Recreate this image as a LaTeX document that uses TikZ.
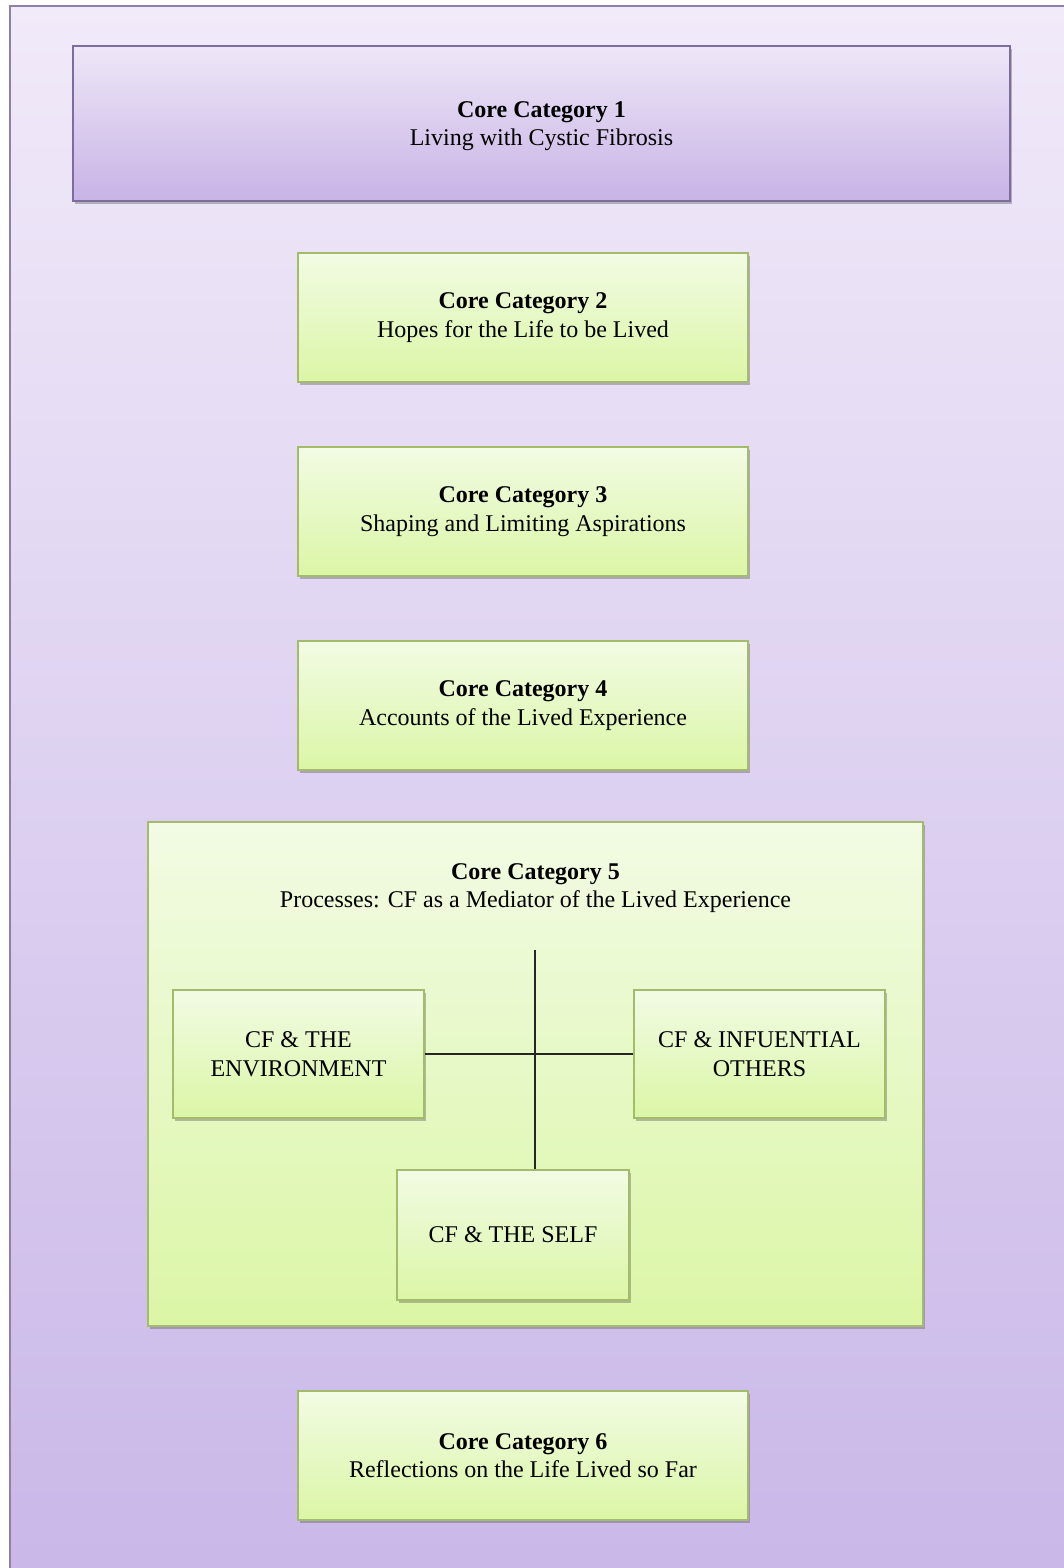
\documentclass[tikz,border=0pt]{standalone}
\usepackage{fontspec}
\setmainfont{Liberation Serif}
\usetikzlibrary{shadows}
\definecolor{bgtop}{HTML}{F1EAF9}
\definecolor{bgbot}{HTML}{C9B7E8}
\definecolor{frameline}{HTML}{8E80A6}
\definecolor{ptop}{HTML}{EEE7F7}
\definecolor{pbot}{HTML}{C8B3E6}
\definecolor{pline}{HTML}{7F6C9F}
\definecolor{gtop}{HTML}{F2FBE4}
\definecolor{gbot}{HTML}{DBF6A6}
\definecolor{gline}{HTML}{A3BB6B}
\tikzset{
  shade box/.style={draw, line width=1.3pt, rectangle, inner sep=0pt, align=center,
    font=\fontsize{24}{28.5}\selectfont,
    drop shadow={shadow xshift=1.5pt, shadow yshift=-3pt, opacity=0.35, fill=black!70}},
  purplebox/.style={shade box, draw=pline, top color=ptop, bottom color=pbot},
  greenbox/.style={shade box, draw=gline, top color=gtop, bottom color=gbot},
  link/.style={draw=black!85, line width=1.3pt}
}
\begin{document}
\begin{tikzpicture}[x=1pt, y=-1pt]
\useasboundingbox (0,0) rectangle (1064,1568);
\begin{scope}
\clip (0,0) rectangle (1064,1568);
\path[draw=frameline, line width=1.3pt, top color=bgtop, bottom color=bgbot]
  (10,6) rectangle (1080,1590);
\end{scope}
% boxes: centre (x,y), size
\node[purplebox, minimum width=937pt, minimum height=155pt, text depth=0pt] (c1) at (541.5,123.5)
  {\textbf{Core Category 1}\\Living with Cystic Fibrosis};
\node[greenbox, minimum width=450pt, minimum height=129pt] (c2) at (523,317.5)
  {\textbf{Core Category 2}\\Hopes for the Life to be Lived};
\node[greenbox, minimum width=450pt, minimum height=129pt] (c3) at (523,511.5)
  {\textbf{Core Category 3}\\Shaping and Limiting Aspirations};
\node[greenbox, minimum width=450pt, minimum height=129pt] (c4) at (523,705.5)
  {\textbf{Core Category 4}\\Accounts of the Lived Experience};
\node[greenbox, minimum width=775pt, minimum height=504pt] (c5) at (535.5,1074) {};
\node[anchor=north, align=center, font=\fontsize{24}{28.5}\selectfont] (c5t) at (535.5,860)
  {\textbf{Core Category 5}\\Processes: CF as a Mediator of the Lived Experience};
\node[greenbox, minimum width=251pt, minimum height=128pt] (env) at (298.5,1054)
  {CF \& THE\\ENVIRONMENT};
\node[greenbox, minimum width=251pt, minimum height=128pt] (oth) at (759.5,1054)
  {CF \& INFUENTIAL\\OTHERS};
\node[greenbox, minimum width=232pt, minimum height=130pt] (self) at (513,1235)
  {CF \& THE SELF};
\node[greenbox, minimum width=450pt, minimum height=129pt] (c6) at (523,1455.5)
  {\textbf{Core Category 6}\\Reflections on the Life Lived so Far};
% connectors
\coordinate (top) at (535,950);
\draw[link] (env.east) -- (oth.west);
\draw[link] (top) -- (top |- self.north);
\end{tikzpicture}
\end{document}
